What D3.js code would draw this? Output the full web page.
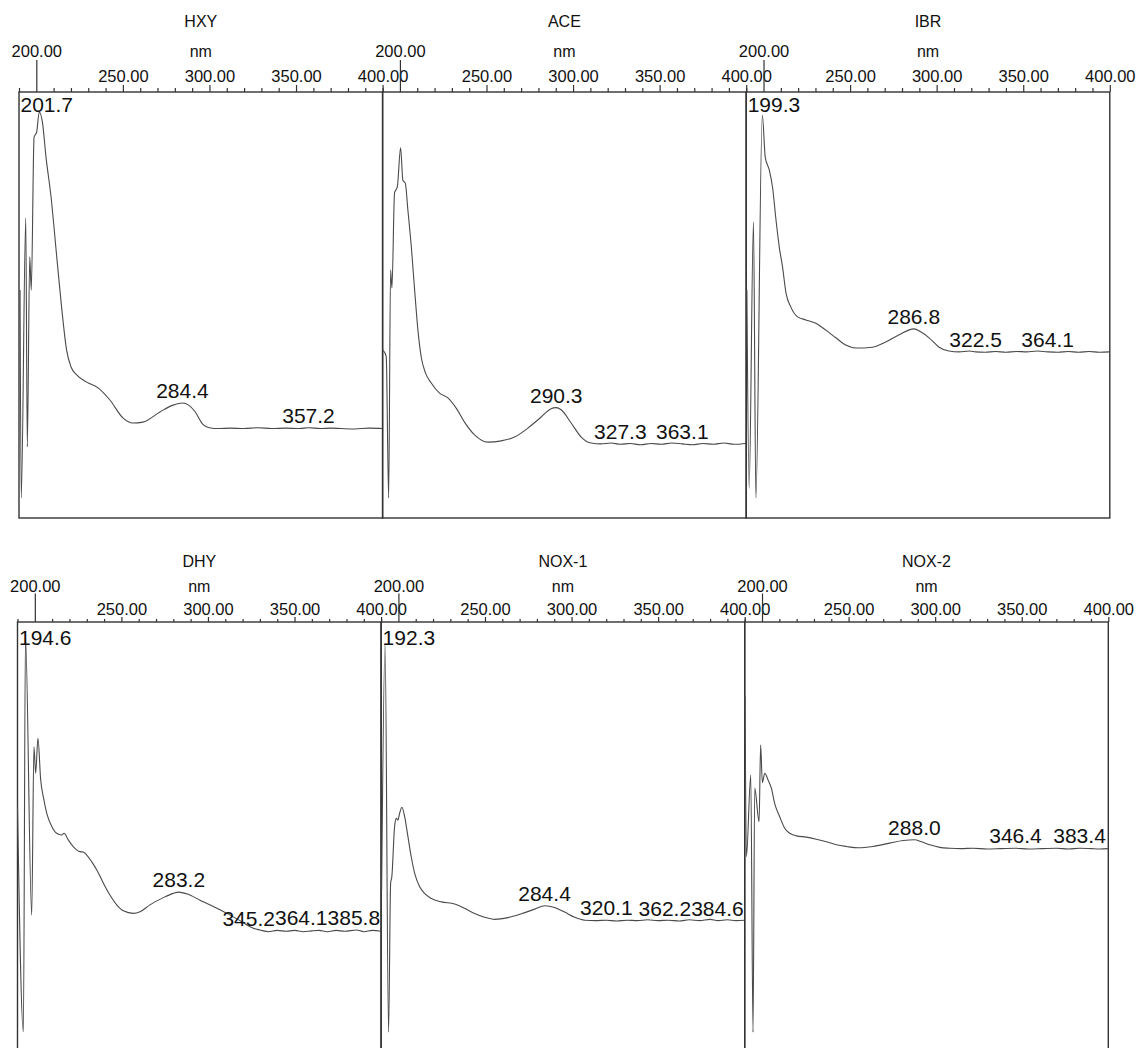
<!DOCTYPE html>
<html>
<head>
<meta charset="utf-8">
<script src="https://cdn.jsdelivr.net/npm/d3@7"></script>
<style>
  body { margin: 0; background: #fff; }
  svg text { font-family: "Liberation Sans", Arial, sans-serif; fill: #111; }
</style>
</head>
<body>
<svg width="1140" height="1048"></svg>
<script>
// panel names, row by row
var panelNames = ["HXY", "ACE", "IBR", "DHY", "NOX-1", "NOX-2"];

// wavelength axis (nm)
var nmDomain = [190, 400];
var majorTicks = [250, 300, 350, 400];
var startTick = [200];
var minorTicks = [190, 210, 220, 230, 240, 260, 270, 280, 290, 310, 320, 330, 340, 360, 370, 380, 390];

// labelled peaks (nm)
var hxyPeaks = [201.7, 284.4, 357.2];
var acePeaks = [290.3, 327.3, 363.1];
var ibrPeaks = [199.3, 286.8, 322.5, 364.1];
var dhyPeaks = [194.6, 283.2, 345.2, 364.1, 385.8];
var nox1Peaks = [192.3, 284.4, 320.1, 362.2, 384.6];
var nox2Peaks = [288.0, 346.4, 383.4];

// spectra: [nm, relative absorbance]
var hxySpectrum = [[190.6,0.535],[191.3,0.047],[193.9,0.704],[194.8,0.167],[196.2,0.613],[197.1,0.535],[198.7,0.894],[200.2,0.906],[201.7,0.953],[203.6,0.927],[205.6,0.847],[208.5,0.754],[211.8,0.613],[214.6,0.495],[217.5,0.394],[220.0,0.355],[223.3,0.336],[229.1,0.319],[235.8,0.305],[242.5,0.277],[250.0,0.235],[255.8,0.223],[261.6,0.225],[271.4,0.249],[279.0,0.265],[284.4,0.270],[288.0,0.265],[291.6,0.250],[296.2,0.220],[300.0,0.212],[305,0.210],[312,0.211],[320,0.210],[328,0.212],[336,0.210],[344,0.211],[352,0.210],[357.2,0.212],[364,0.210],[370,0.211],[376,0.210],[384,0.209],[392,0.211],[400,0.210]];

var aceSpectrum = [[190.2,0.394],[192.1,0.379],[193.5,0.047],[194.6,0.582],[195.4,0.540],[196.9,0.763],[198.5,0.777],[200.4,0.869],[201.7,0.793],[203.1,0.786],[204.6,0.723],[206.6,0.636],[208.5,0.535],[210.4,0.441],[212.3,0.378],[214.8,0.340],[218.1,0.317],[222.9,0.293],[227.7,0.282],[232.5,0.258],[237.3,0.225],[243.1,0.195],[250.8,0.178],[258.5,0.181],[266.2,0.190],[273.9,0.211],[281.6,0.237],[287.0,0.256],[290.3,0.259],[293.1,0.254],[298.9,0.223],[304.7,0.190],[310.4,0.176],[316,0.174],[322,0.176],[327.3,0.173],[333,0.175],[339,0.172],[345,0.175],[351,0.173],[357,0.176],[363.1,0.174],[369,0.172],[375,0.175],[381,0.173],[387,0.176],[393,0.173],[400,0.175]];

var ibrSpectrum = [[190.4,0.535],[191.7,0.070],[194.2,0.695],[195.6,0.047],[199.3,0.946],[201.0,0.847],[203.3,0.817],[205.2,0.777],[207.2,0.700],[209.1,0.636],[211.0,0.589],[213.0,0.528],[215.8,0.495],[219.7,0.472],[224.5,0.465],[230.2,0.457],[236.0,0.441],[241.8,0.423],[247.5,0.406],[253.3,0.399],[262.9,0.401],[270.6,0.413],[278.3,0.430],[286.8,0.444],[290.8,0.437],[295.6,0.423],[301.4,0.401],[307.1,0.392],[313,0.390],[319,0.392],[322.5,0.390],[328,0.389],[334,0.391],[340,0.389],[346,0.391],[352,0.390],[358,0.392],[364.1,0.390],[370,0.389],[376,0.391],[382,0.389],[388,0.391],[394,0.389],[400,0.390]];

var dhySpectrum = [[190.0,0.566],[193.4,0.038],[194.6,0.966],[198.2,0.312],[199.5,0.707],[200.5,0.645],[201.8,0.727],[203.4,0.629],[204.9,0.590],[206.9,0.551],[209.8,0.520],[212.6,0.504],[215.5,0.500],[216.9,0.504],[219.4,0.488],[222.2,0.473],[226.1,0.461],[228.0,0.460],[230.0,0.453],[232.9,0.437],[235.8,0.418],[239.6,0.387],[243.4,0.359],[247.3,0.336],[251.1,0.322],[256.9,0.316],[260.8,0.320],[266.5,0.336],[274.2,0.353],[280.0,0.363],[283.2,0.366],[287.7,0.362],[295.4,0.347],[303.1,0.332],[310.9,0.316],[318.5,0.299],[326.2,0.281],[330.1,0.277],[335,0.273],[340,0.276],[345.2,0.274],[350,0.276],[355,0.273],[360,0.275],[364.1,0.276],[369,0.273],[374,0.276],[379,0.274],[385.8,0.277],[390,0.273],[395,0.276],[400,0.274]];

var nox1Spectrum = [[190.3,0.371],[192.3,0.950],[194.3,0.037],[195.5,0.387],[196.2,0.402],[197.8,0.520],[198.8,0.539],[199.7,0.535],[200.7,0.551],[202.0,0.565],[203.6,0.543],[205.5,0.496],[207.4,0.449],[209.4,0.410],[212.2,0.379],[215.1,0.363],[219.0,0.351],[224.8,0.343],[232.5,0.338],[238.2,0.328],[244.0,0.316],[249.8,0.307],[255.6,0.302],[263.3,0.306],[271.0,0.315],[278.7,0.326],[284.4,0.334],[290.2,0.330],[296.0,0.319],[301.8,0.307],[307.6,0.300],[314,0.299],[320.1,0.300],[326,0.298],[332,0.300],[338,0.299],[344,0.301],[350,0.299],[356,0.300],[362.2,0.298],[368,0.301],[374,0.299],[380,0.302],[384.6,0.299],[390,0.301],[395,0.299],[400,0.300]];

var nox2Spectrum = [[190.2,0.825],[191.0,0.449],[193.5,0.641],[194.8,0.037],[195.8,0.610],[198.3,0.531],[199.2,0.711],[200.2,0.623],[201.6,0.645],[203.5,0.629],[205.4,0.610],[207.3,0.574],[210.2,0.543],[213.1,0.516],[216.0,0.504],[219.9,0.498],[225.6,0.495],[231.4,0.490],[237.2,0.484],[243.0,0.477],[248.8,0.473],[255.5,0.470],[264.1,0.473],[273.8,0.481],[281.5,0.487],[288.0,0.489],[292.1,0.484],[296.9,0.477],[302.7,0.471],[308.4,0.469],[315,0.468],[322,0.469],[330,0.467],[338,0.468],[346.4,0.469],[354,0.467],[362,0.468],[370,0.469],[377,0.467],[383.4,0.469],[390,0.468],[395,0.467],[400,0.468]];

var spectra = [hxySpectrum, aceSpectrum, ibrSpectrum, dhySpectrum, nox1Spectrum, nox2Spectrum];
var peaks = [hxyPeaks, acePeaks, ibrPeaks, dhyPeaks, nox1Peaks, nox2Peaks];

// layout of the two rows (pixels)
var panelWidth = 363.6;
var rows = [
  { top: 92, bottom: 518, frameBottom: 518, x0: 19, titleY: 26.7, longTick: 32, longPad: 3, major: 7, minor: 4, pad: 3, labelTop: 20 },
  { top: 622, bottom: 1048, frameBottom: 1052, x0: 17.5, titleY: 566.7, longTick: 28.5, longPad: 1.5, major: 5, minor: 3, pad: 2, labelTop: 23 }
];

var svg = d3.select("svg");
var bisect = d3.bisector(function(d) { return d[0]; }).left;

function valueAt(data, nm) {
  var i = bisect(data, nm);
  if (i <= 0) return data[0][1];
  if (i >= data.length) return data[data.length - 1][1];
  var a = data[i - 1], b = data[i];
  var t = (nm - a[0]) / (b[0] - a[0]);
  return a[1] + t * (b[1] - a[1]);
}

panelNames.forEach(function(name, p) {
  var row = rows[Math.floor(p / 3)];
  var col = p % 3;
  var left = row.x0 + col * panelWidth;
  var right = left + panelWidth;

  var x = d3.scaleLinear().domain(nmDomain).range([left, right]);
  var y = d3.scaleLinear().domain([0, 1]).range([row.bottom, row.top]);

  var g = svg.append("g");

  // title and unit
  g.append("text")
    .attr("x", (left + right) / 2)
    .attr("y", row.titleY)
    .attr("text-anchor", "middle")
    .style("font-size", "16px")
    .text(name);

  g.append("text")
    .attr("x", (left + right) / 2)
    .attr("y", row.top - row.longTick - row.longPad)
    .attr("text-anchor", "middle")
    .style("font-size", "16px")
    .text("nm");

  // top axis, three sets of ticks
  var fmt = d3.format(".2f");
  var axes = [
    d3.axisTop(x).tickValues(minorTicks).tickSize(row.minor).tickFormat(""),
    d3.axisTop(x).tickValues(majorTicks).tickSize(row.major).tickPadding(row.pad).tickFormat(fmt),
    d3.axisTop(x).tickValues(startTick).tickSize(row.longTick).tickPadding(row.longPad).tickFormat(fmt)
  ];
  axes.forEach(function(ax) {
    var a = g.append("g")
      .attr("transform", "translate(0," + row.top + ")")
      .call(ax);
    a.select(".domain").remove();
    a.selectAll("line").attr("stroke", "#333").attr("stroke-width", 1.2);
    a.selectAll("text")
      .attr("font-family", null)
      .style("font-size", "16.5px")
      .style("fill", "#111");
    a.attr("font-family", null).attr("font-size", null);
  });

  // frame
  g.append("rect")
    .attr("x", left)
    .attr("y", row.top)
    .attr("width", right - left)
    .attr("height", row.frameBottom - row.top)
    .attr("fill", "none")
    .attr("stroke", "#333")
    .attr("stroke-width", 1.4);

  // spectrum
  var line = d3.line()
    .x(function(d) { return x(d[0]); })
    .y(function(d) { return y(d[1]); })
    .curve(d3.curveMonotoneX);

  g.append("path")
    .datum(spectra[p])
    .attr("d", line)
    .attr("fill", "none")
    .attr("stroke", "#4a4a4a")
    .attr("stroke-width", 1.1)
    .attr("stroke-linejoin", "round");

  // peak labels, kept inside the frame and not overlapping
  var labels = peaks[p].map(function(nm) {
    var t = g.append("text")
      .style("font-size", "21px")
      .attr("text-anchor", "start")
      .text(nm.toFixed(1));
    var w = t.node().getComputedTextLength();
    var base = y(valueAt(spectra[p], nm)) - 5;
    base = Math.max(base, row.top + row.labelTop);
    return { node: t, w: w, x: x(nm) - w / 2, y: base };
  });

  labels.forEach(function(l) {
    if (l.x + l.w > right - 1) l.x = right - 1 - l.w;
  });
  for (var i = labels.length - 2; i >= 0; i--) {
    var nxt = labels[i + 1];
    var sameBand = Math.abs(labels[i].y - nxt.y) < 15;
    if (sameBand && labels[i].x + labels[i].w > nxt.x) labels[i].x = nxt.x - labels[i].w;
  }
  labels.forEach(function(l) {
    if (l.x < left + 1.5) l.x = left + 1.5;
    l.node.attr("x", l.x).attr("y", l.y);
  });
});
</script>
</body>
</html>
